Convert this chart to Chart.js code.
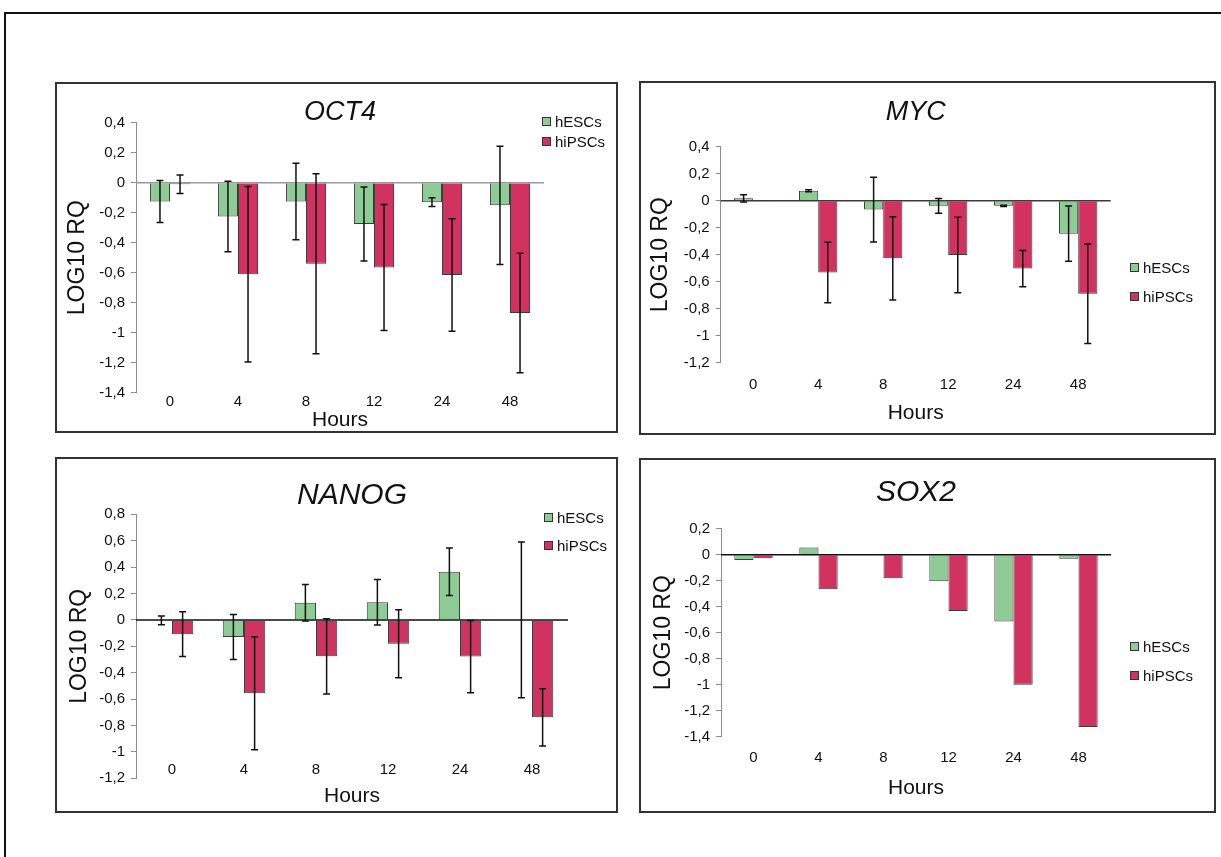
<!DOCTYPE html>
<html>
<head>
<meta charset="utf-8">
<title>LOG10 RQ</title>
<script src="https://cdn.jsdelivr.net/npm/chart.js@4.4.1/dist/chart.umd.min.js"></script>
<style>
  body { margin: 0; background: #fff; width: 1221px; height: 857px; overflow: hidden; position: relative; font-family: 'Liberation Sans', Arial, sans-serif; }
  .frame { position: absolute; left: 4px; top: 12px; width: 1300px; height: 900px; border-top: 2px solid #111; border-left: 2px solid #111; }
  .panel { position: absolute; border: 2px solid #333; box-sizing: border-box; background: #fff; }
  .panel canvas { position: absolute; left: 0; top: 0; }
  .legend-item { position: absolute; white-space: nowrap; font-size: 15px; line-height: 15px; color: #111; }
  .legend-box { position: absolute; width: 9px; height: 9px; border: 1px solid #333; box-sizing: border-box; }
</style>
</head>
<body>
<div class="frame"></div>

<script>
// categorias e series
const hours = ['0', '4', '8', '12', '24', '48'];
const seriesNames = ['hESCs', 'hiPSCs'];
const seriesColors = ['#8fcb96', '#d23260'];

// OCT4
const oct4Esc = [-0.125, -0.225, -0.125, -0.275, -0.13, -0.151];
const oct4EscErr = [0.14, 0.235, 0.255, 0.247, 0.029, 0.394];
const oct4Ips = [-0.01, -0.61, -0.54, -0.565, -0.615, -0.869];
const oct4IpsErr = [0.062, 0.585, 0.6, 0.42, 0.375, 0.398];

// MYC
const mycEsc = [0.018, 0.074, -0.066, -0.038, -0.038, -0.244];
const mycEscErr = [0.027, 0.008, 0.24, 0.055, 0.005, 0.205];
const mycIps = [-0.003, -0.532, -0.427, -0.402, -0.503, -0.689];
const mycIpsErr = [0, 0.224, 0.309, 0.279, 0.134, 0.368];

// NANOG
const nanogEsc = [-0.003, -0.13, 0.13, 0.134, 0.364, 0];
const nanogEscErr = [0.033, 0.17, 0.139, 0.172, 0.18, 0.59];
const nanogIps = [-0.108, -0.556, -0.276, -0.181, -0.278, -0.738];
const nanogIpsErr = [0.17, 0.428, 0.285, 0.258, 0.274, 0.217];

// SOX2 (sem barras de erro)
const sox2Esc = [-0.041, 0.056, 0.004, -0.205, -0.513, -0.031];
const sox2Ips = [-0.028, -0.265, -0.182, -0.434, -1.0, -1.326];

// posicoes de cada painel (caixa, area do grafico, textos)
const panels = [
    { gene: 'OCT4', esc: oct4Esc, escErr: oct4EscErr, ips: oct4Ips, ipsErr: oct4IpsErr, min: -1.4, max: 0.4,
      box: [55, 82, 563, 351], area: [136, 122.7, 544, 392.7], titleSize: 27, titleY: 112,
      yTitleX: 77.5, xLabelY: 400, hoursY: 420, legend: [542, 116.5, 20], zero: '#9a9a9a' },
    { gene: 'MYC', esc: mycEsc, escErr: mycEscErr, ips: mycIps, ipsErr: mycIpsErr, min: -1.2, max: 0.4,
      box: [639, 81, 577, 354], area: [720.7, 146.7, 1110.7, 362.7], titleSize: 27, titleY: 112,
      yTitleX: 661, xLabelY: 383, hoursY: 413, legend: [1130, 263, 28.5], zero: '#3a3a3a' },
    { gene: 'NANOG', esc: nanogEsc, escErr: nanogEscErr, ips: nanogIps, ipsErr: nanogIpsErr, min: -1.2, max: 0.8,
      box: [55, 457, 563, 356], area: [136, 514.3, 568, 778.3], titleSize: 30, titleY: 496,
      yTitleX: 80, xLabelY: 768, hoursY: 796, legend: [544, 513, 28], zero: '#111' },
    { gene: 'SOX2', esc: sox2Esc, escErr: null, ips: sox2Ips, ipsErr: null, min: -1.4, max: 0.2,
      box: [639, 458, 577, 355], area: [721, 528.7, 1111, 736.7], titleSize: 30, titleY: 493,
      yTitleX: 663.5, xLabelY: 756.5, hoursY: 788, legend: [1130, 642, 28.5], zero: '#111' }
];

// linha do zero e barras de erro desenhadas com a escala do grafico
const extras = {
    id: 'extras',
    afterDatasetsDraw(chart, args, opts) {
        const ctx = chart.ctx;
        const y = chart.scales.y;
        const area = chart.chartArea;
        const y0 = y.getPixelForValue(0);
        ctx.save();
        ctx.strokeStyle = opts.zeroColor;
        ctx.lineWidth = 1.5;
        ctx.beginPath();
        ctx.moveTo(area.left, y0);
        ctx.lineTo(area.right, y0);
        ctx.stroke();

        ctx.strokeStyle = '#111';
        ctx.lineWidth = 1.5;
        chart.data.datasets.forEach((ds, i) => {
            if (!ds.errors) return;
            chart.getDatasetMeta(i).data.forEach((bar, j) => {
                const e = ds.errors[j];
                if (!e) return;
                const top = y.getPixelForValue(ds.data[j] + e);
                const bot = y.getPixelForValue(ds.data[j] - e);
                ctx.beginPath();
                ctx.moveTo(bar.x, top);
                ctx.lineTo(bar.x, bot);
                ctx.moveTo(bar.x - 3.5, top);
                ctx.lineTo(bar.x + 3.5, top);
                ctx.moveTo(bar.x - 3.5, bot);
                ctx.lineTo(bar.x + 3.5, bot);
                ctx.stroke();
            });
        });
        ctx.restore();
    }
};

function formatTick(v) {
    const r = Math.round(v * 10) / 10;
    return String(r).replace('.', ',');
}

panels.forEach(p => {
    const [bx, by, bw, bh] = p.box;
    const [al, at, ar, ab] = p.area;
    const cx = bx + 2, cy = by + 2, cw = bw - 4, ch = bh - 4;

    const div = document.createElement('div');
    div.className = 'panel';
    div.style.left = bx + 'px';
    div.style.top = by + 'px';
    div.style.width = bw + 'px';
    div.style.height = bh + 'px';
    const canvas = document.createElement('canvas');
    canvas.width = cw;
    canvas.height = ch;
    div.appendChild(canvas);
    document.body.appendChild(div);

    // legenda em html
    const [lx, ly, gap] = p.legend;
    seriesNames.forEach((name, i) => {
        const sq = document.createElement('div');
        sq.className = 'legend-box';
        sq.style.left = lx + 'px';
        sq.style.top = (ly + i * gap) + 'px';
        sq.style.background = seriesColors[i];
        document.body.appendChild(sq);
        const txt = document.createElement('div');
        txt.className = 'legend-item';
        txt.style.left = (lx + 13) + 'px';
        txt.style.top = (ly + i * gap - 3) + 'px';
        txt.textContent = name;
        document.body.appendChild(txt);
    });

    const titleLH = p.titleSize * 0.8;
    const titleTop = p.titleY - cy - titleLH / 2;
    const titleBottom = (at - cy) - titleTop - titleLH;

    new Chart(canvas, {
        type: 'bar',
        data: {
            labels: hours,
            datasets: [
                { label: seriesNames[0], data: p.esc, errors: p.escErr, backgroundColor: seriesColors[0],
                  borderColor: '#3c3c3c', borderWidth: 1, categoryPercentage: 0.59, barPercentage: 1 },
                { label: seriesNames[1], data: p.ips, errors: p.ipsErr, backgroundColor: seriesColors[1],
                  borderColor: '#3c3c3c', borderWidth: 1, categoryPercentage: 0.59, barPercentage: 1 }
            ]
        },
        options: {
            responsive: false,
            animation: false,
            layout: { padding: { left: 0, top: 0, bottom: 0, right: cx + cw - ar } },
            plugins: {
                legend: { display: false },
                tooltip: { enabled: false },
                title: {
                    display: true,
                    text: p.gene,
                    fullSize: false,
                    color: '#111',
                    font: { family: 'Liberation Sans', size: p.titleSize, style: 'italic', weight: 'normal', lineHeight: 0.8 },
                    padding: { top: titleTop, bottom: titleBottom }
                },
                extras: { zeroColor: p.zero }
            },
            scales: {
                x: {
                    grid: { display: false },
                    border: { display: false },
                    ticks: { color: '#111', font: { family: 'Liberation Sans', size: 15, lineHeight: 1 },
                             padding: p.xLabelY - ab - 13.8, maxRotation: 0, autoSkip: false },
                    title: { display: true, text: 'Hours', color: '#111',
                             font: { family: 'Liberation Sans', size: 21, lineHeight: 1 },
                             padding: { top: 0, bottom: cy + ch - p.hoursY - 10.5 } },
                    afterFit(s) {
                        s.height = cy + ch - ab;
                        // rotulos podem ficar acima da base do grafico, sem recorte
                        s._computeLabelArea = () => undefined;
                    }
                },
                y: {
                    min: p.min,
                    max: p.max,
                    ticks: { stepSize: 0.2, autoSkip: false, color: '#111', padding: 6,
                             font: { family: 'Liberation Sans', size: 15 }, callback: formatTick },
                    grid: { drawOnChartArea: false, drawTicks: true, tickLength: 5, color: '#8c8c8c' },
                    border: { color: '#8c8c8c' },
                    title: { display: true, text: 'LOG10 RQ', color: '#111',
                             font: { family: 'Liberation Sans', size: 23, lineHeight: 1 },
                             padding: { top: p.yTitleX - cx - 11.5, bottom: 0 } },
                    afterFit(s) { s.width = al - cx; }
                }
            }
        },
        plugins: [extras]
    });
});
</script>
</body>
</html>
